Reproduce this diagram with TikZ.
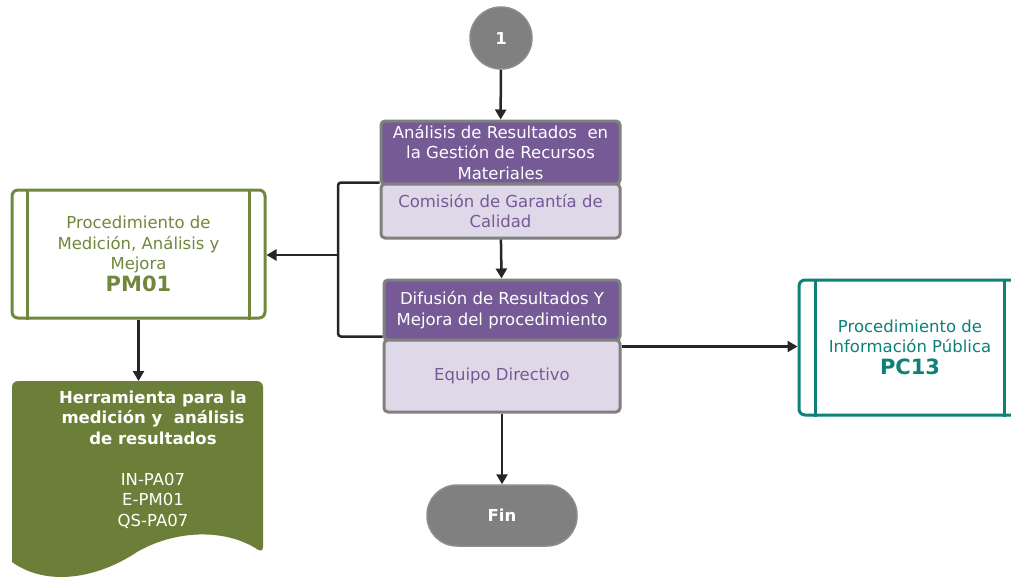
\documentclass[tikz,border=0pt]{standalone}
\usepackage{fontspec}
\setmainfont{DejaVu Sans}
\usetikzlibrary{arrows.meta}
\definecolor{morado}{RGB}{118,90,150}
\definecolor{lila}{RGB}{222,216,232}
\definecolor{gris}{RGB}{128,128,128}
\definecolor{verde}{RGB}{112,135,60}
\definecolor{verdedoc}{RGB}{108,127,56}
\definecolor{turquesa}{RGB}{14,128,120}

\begin{document}
\begin{tikzpicture}
[
x=1pt, y=-1pt,
every node/.style={font=\fontsize{16.5}{20.5}\selectfont, align=center, inner sep=0pt},
cabecera/.style={rectangle, rounded corners=4pt, draw=gris, line width=3pt, fill=morado, text=white, minimum width=239pt},
cuerpo/.style={rectangle, rounded corners=4pt, draw=gris, line width=3pt, fill=lila, text=morado, minimum width=239pt},
proc/.style={rectangle, rounded corners=6pt, line width=3pt, fill=white},
terminal/.style={fill=gris, draw=gris!90, line width=1.5pt, text=white, font=\fontsize{16.5}{20.5}\selectfont\bfseries},
flecha/.style={-{Triangle[length=10pt,width=11pt]}, line width=2.5pt, draw=black!85}
]
\useasboundingbox (0,0) rectangle (1011,578);

\node[terminal, circle, minimum size=62pt] (uno) at (501,38) {1};
\node[cabecera, minimum height=63pt] (analisis) at (500.5,152.5) {Análisis de Resultados~ en\\la Gestión de Recursos\\Materiales};
\node[cuerpo, minimum height=54pt] (comision) at (500.5,211) {Comisión de Garantía de\\Calidad};
\node[cabecera, minimum width=236pt, minimum height=60pt] (difusion) at (502,310) {Difusión de Resultados Y\\Mejora del procedimiento};
\node[cuerpo, minimum width=236pt, minimum height=72pt] (equipo) at (502,376) {Equipo Directivo};
\node[terminal, rectangle, rounded corners=30pt, minimum width=150pt, minimum height=61pt] (fin) at (502,515.5) {Fin};

\node[proc, draw=verde, text=verde, minimum width=253pt, minimum height=128pt] (pm01) at (138.5,254)
  {Procedimiento de\\Medición, Análisis y\\Mejora\\[1.5pt]{\fontsize{21}{24}\selectfont\bfseries PM01}};
\draw[verde, line width=3pt] ([xshift=17pt]pm01.north west) -- ([xshift=17pt]pm01.south west);
\draw[verde, line width=3pt] ([xshift=-17pt]pm01.north east) -- ([xshift=-17pt]pm01.south east);

\node[proc, draw=turquesa, text=turquesa, minimum width=222pt, minimum height=135pt] (pc13) at (910,347.5)
  {Procedimiento de\\Información Pública\\[1.5pt]{\fontsize{21}{24}\selectfont\bfseries PC13}};
\draw[turquesa, line width=3pt] ([xshift=18pt]pc13.north west) -- ([xshift=18pt]pc13.south west);
\draw[turquesa, line width=3pt] ([xshift=-18pt]pc13.north east) -- ([xshift=-18pt]pc13.south east);

\fill[verdedoc, rounded corners=6pt] (12,562) -- (12,381) -- (263,381) -- (263,553) [sharp corners]
  .. controls (225,528) and (175,530) .. (137,552) .. controls (95,580) and (45,586) .. (12,562) -- cycle;
\coordinate (doc) at (137,381);
\node[text=white] (herramienta) at (153,459.5)
  {\textbf{Herramienta para la}\\\textbf{medición y~ análisis}\\\textbf{de resultados}\\[20.5pt]IN-PA07\\E-PM01\\QS-PA07};

\draw[flecha] (uno) -- (analisis);
\draw[flecha] (comision) -- (difusion);
\draw[flecha] (equipo) -- (fin);
\draw[flecha] (pm01.south) -- (pm01.south |- doc);
\coordinate (union) at (338,255);
\draw[line width=2.5pt, draw=black!85, rounded corners=3pt] (comision.north west) -| (union) |- ([yshift=5pt]difusion.south west);
\draw[flecha] (union) -- (union -| pm01.east);
\draw[flecha] ([yshift=-8pt]equipo.north east) -- ([yshift=-8pt]equipo.north east -| pc13.west);
\end{tikzpicture}
\end{document}
